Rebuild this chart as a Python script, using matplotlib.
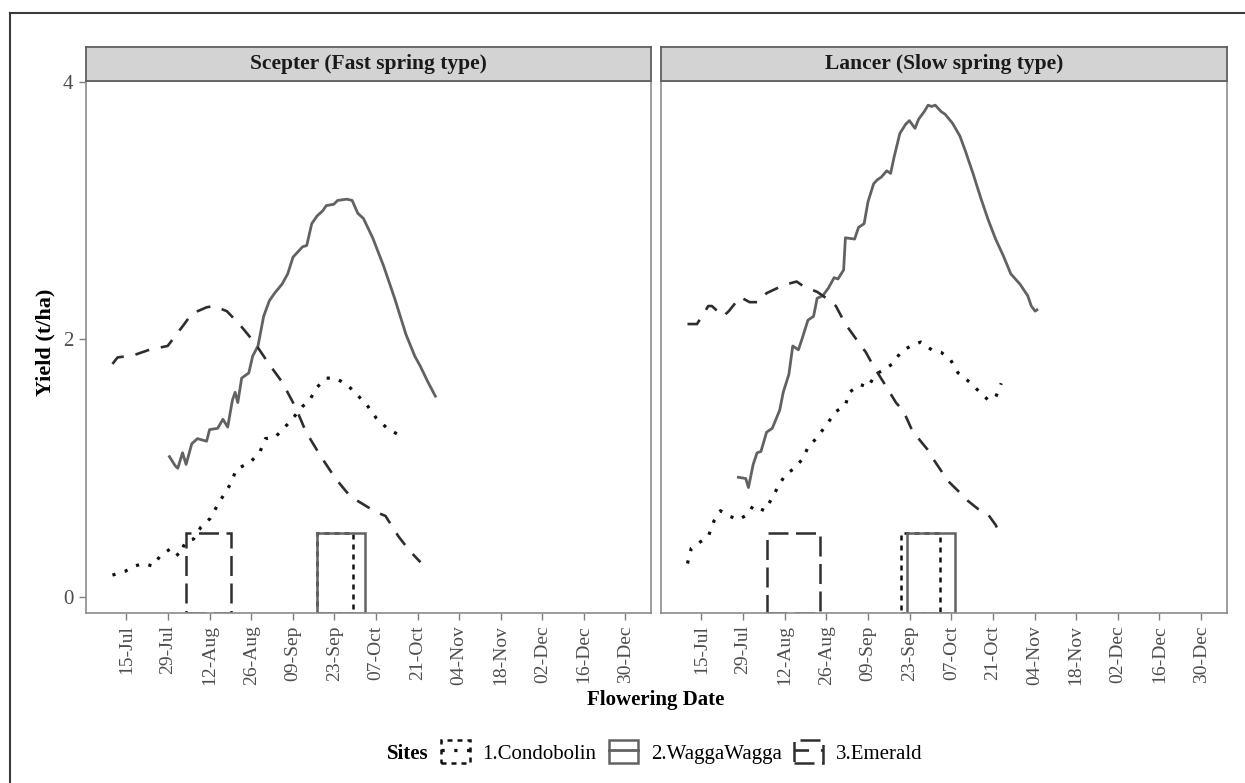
import matplotlib
matplotlib.use("Agg")
import matplotlib.pyplot as plt
from matplotlib.patches import Rectangle, Patch
from matplotlib.lines import Line2D
from matplotlib.legend_handler import HandlerTuple

plt.rcParams['font.family'] = ['Liberation Serif', 'DejaVu Serif']

# flowering date as day of year, yield in t/ha
panels = ["Scepter (Fast spring type)", "Lancer (Slow spring type)"]
sites = ["1.Condobolin", "2.WaggaWagga", "3.Emerald"]

tick_days = [196, 210, 224, 238, 252, 266, 280, 294, 308, 322, 336, 350, 364]
tick_labels = ["15-Jul", "29-Jul", "12-Aug", "26-Aug", "09-Sep", "23-Sep", "07-Oct",
               "21-Oct", "04-Nov", "18-Nov", "02-Dec", "16-Dec", "30-Dec"]

# Scepter
sc_condo_day = [191.3, 195.6, 198.7, 201.8, 204.9, 207.4, 211.2, 213.6, 216, 218.6, 221, 224.2,
                226.6, 229.2, 231.4, 232.9, 235.4, 237.9, 241, 242.8, 246, 249, 252.1, 255.3,
                257.7, 260.2, 263.3, 266.4, 270.2, 273.3, 277, 280.1, 283.8, 287.6]
sc_condo_yield = [0.17, 0.20, 0.24, 0.26, 0.24, 0.32, 0.38, 0.32, 0.43, 0.45, 0.54, 0.61,
                  0.71, 0.81, 0.89, 0.99, 1.02, 1.05, 1.13, 1.23, 1.24, 1.31, 1.39, 1.48,
                  1.53, 1.63, 1.70, 1.70, 1.65, 1.58, 1.49, 1.39, 1.31, 1.26]
sc_wagga_day = [210.5, 212.4, 213.3, 214.9, 216.1, 218, 219.9, 223, 224, 226.7, 228.5, 230.1,
                231.7, 232.6, 233.5, 234.8, 237.2, 238.5, 240.3, 242.2, 244.1, 245.9, 248.4,
                250.3, 252.1, 255.3, 256.7, 258.4, 260.2, 262.1, 263.3, 265.8, 267.1, 270.2,
                272, 273.9, 275.8, 278.9, 282.6, 286.3, 290.1, 293.1, 295, 297.5, 300]
sc_wagga_yield = [1.09, 1.02, 1.00, 1.12, 1.03, 1.19, 1.23, 1.21, 1.30, 1.31, 1.38, 1.32,
                  1.53, 1.59, 1.51, 1.70, 1.74, 1.87, 1.95, 2.18, 2.30, 2.36, 2.43,
                  2.51, 2.64, 2.72, 2.73, 2.90, 2.96, 3.00, 3.04, 3.05, 3.08, 3.09,
                  3.08, 2.98, 2.94, 2.79, 2.57, 2.32, 2.04, 1.87, 1.79, 1.67, 1.56]
sc_emer_day = [191.3, 193, 198.7, 203.7, 209.9, 215.5, 218, 223, 225.4, 229.8, 234, 239, 244,
               248.4, 252.8, 256.5, 261.5, 266.4, 271.4, 275, 280, 283.2, 287.6, 291.3, 295]
sc_emer_yield = [1.81, 1.86, 1.88, 1.92, 1.95, 2.12, 2.20, 2.25, 2.26, 2.22, 2.12, 1.98, 1.81,
                 1.67, 1.48, 1.28, 1.09, 0.92, 0.78, 0.73, 0.66, 0.63, 0.47, 0.36, 0.27]

# Lancer
la_condo_day = [191.3, 192.6, 195.1, 198.3, 200.2, 202.4, 205.2, 208.4, 211.5, 213.4, 217.2,
                219.8, 221.6, 224.2, 227.3, 229.9, 231.8, 234.9, 238.1, 241.2, 244.4, 245.7,
                249.4, 252, 254.5, 257, 260.2, 263.3, 266.5, 269.7, 273.4, 276.6, 279.8,
                282.3, 286.1, 289.2, 292.4, 294.9, 296.8]
la_condo_yield = [0.26, 0.38, 0.42, 0.47, 0.59, 0.67, 0.63, 0.60, 0.64, 0.71, 0.67,
                  0.77, 0.85, 0.95, 1.00, 1.07, 1.16, 1.24, 1.34, 1.44, 1.49, 1.59,
                  1.65, 1.63, 1.73, 1.76, 1.81, 1.91, 1.95, 1.98, 1.92, 1.90, 1.84,
                  1.74, 1.67, 1.60, 1.53, 1.55, 1.66]
la_wagga_day = [208.4, 210.9, 211.8, 213.4, 214.7, 216, 217.9, 219.8, 222.3, 223.5, 225.4,
                226.7, 228.6, 229.9, 231.8, 233.7, 234.9, 236.8, 238.7, 240.6, 241.9, 243.8,
                244.4, 247.5, 248.8, 250.7, 252, 253.9, 255.1, 256.4, 258.3, 259.6, 260.8,
                262.7, 264.6, 265.9, 267.8, 269, 270.9, 272.2, 273.4, 274.6, 276.6, 277.9,
                280.4, 282.9, 284.8, 287.3, 289.9, 292.4, 294.9, 297.5, 300, 303.1, 305.7,
                306.9, 308.2, 308.8]
la_wagga_yield = [0.93, 0.92, 0.85, 1.03, 1.12, 1.13, 1.28, 1.31, 1.45, 1.59, 1.73,
                  1.95, 1.92, 2.01, 2.15, 2.18, 2.32, 2.34, 2.40, 2.48, 2.47, 2.54,
                  2.79, 2.78, 2.87, 2.90, 3.07, 3.21, 3.24, 3.26, 3.31, 3.29, 3.42,
                  3.60, 3.67, 3.70, 3.64, 3.71, 3.77, 3.82, 3.81, 3.82, 3.77, 3.75,
                  3.68, 3.58, 3.46, 3.29, 3.10, 2.93, 2.78, 2.65, 2.51, 2.43, 2.34,
                  2.26, 2.22, 2.23]
la_emer_day = [191.3, 194.5, 198.3, 199.5, 203.3, 205.2, 209, 212.2, 215.3, 217.9, 221.6,
               224.8, 228, 230.5, 234.9, 237.4, 241.2, 244.4, 247.5, 251.3, 253.9, 257.7,
               261.4, 264, 267.1, 269, 272.2, 273.4, 276.6, 278.5, 282.9, 285.4, 289.2,
               292.4, 294.9, 296.8]
la_emer_yield = [2.12, 2.12, 2.26, 2.26, 2.18, 2.22, 2.33, 2.29, 2.29, 2.36, 2.40,
                 2.43, 2.45, 2.41, 2.37, 2.33, 2.26, 2.12, 2.02, 1.90, 1.79, 1.65,
                 1.51, 1.44, 1.28, 1.23, 1.14, 1.09, 0.98, 0.91, 0.81, 0.75, 0.68,
                 0.64, 0.56, 0.47]

# optimal flowering windows (start day, end day), box height
sc_window_start = [260, 260.1, 216]
sc_window_end = [272.3, 276.2, 231.1]
la_window_start = [263, 265.1, 218]
la_window_end = [276.1, 281.1, 235.8]
window_height = 0.5

colors = ["#111111", "#626262", "#2e2e2e"]
line_styles = [(0, (1, 3)), "-", (0, (5.5, 4.5))]
line_widths = [2.3, 2.0, 1.9]
rect_styles = [(0, (2, 2)), "-", (0, (8, 3))]

W, H = 1245, 783
def box(x0, y0, x1, y1):
    return [x0 / W, 1 - y1 / H, (x1 - x0) / W, (y1 - y0) / H]

fig = plt.figure(figsize=(12.45, 7.83), dpi=100)

ax1 = fig.add_axes(box(86, 80.7, 651, 612.7))
ax2 = fig.add_axes(box(661, 80.7, 1226.7, 612.7))
st1 = fig.add_axes(box(86, 46.7, 651, 80.7))
st2 = fig.add_axes(box(661, 46.7, 1226.7, 80.7))

panel_lines = [
    [(sc_condo_day, sc_condo_yield), (sc_wagga_day, sc_wagga_yield), (sc_emer_day, sc_emer_yield)],
    [(la_condo_day, la_condo_yield), (la_wagga_day, la_wagga_yield), (la_emer_day, la_emer_yield)],
]
panel_windows = [(sc_window_start, sc_window_end), (la_window_start, la_window_end)]

for ax, lines, win in zip([ax1, ax2], panel_lines, panel_windows):
    ax.set_xlim(182.4, 372.6)
    ax.set_ylim(-0.122, 4.01)
    ybot = ax.get_ylim()[0]
    for i in range(3):
        r = Rectangle((win[0][i], ybot), win[1][i] - win[0][i], window_height - ybot,
                      fill=False, edgecolor=colors[i], linestyle=rect_styles[i], lw=1.8, zorder=2)
        ax.add_patch(r)
    for i in range(3):
        ax.plot(lines[i][0], lines[i][1], color=colors[i], linestyle=line_styles[i],
                lw=line_widths[i], zorder=3)
    ax.set_xticks(tick_days)
    ax.set_xticklabels(tick_labels, rotation=90)
    for sp in ax.spines.values():
        sp.set_color("#8c8c8c")
        sp.set_linewidth(1.2)
    ax.tick_params(axis='both', length=5, width=1, color="#7f7f7f", labelcolor="#4d4d4d",
                   labelsize=14, pad=4)

ax1.set_yticks([0, 2, 4])
ax1.tick_params(axis='y', labelsize=15)
ax2.set_yticks([])

for st, name in zip([st1, st2], panels):
    st.set_facecolor("#d3d3d3")
    st.set_xticks([])
    st.set_yticks([])
    for sp in st.spines.values():
        sp.set_color("#5f5f5f")
        sp.set_linewidth(1.3)
    st.text(0.5, 0.5, name, ha="center", va="center", fontsize=15.5, fontweight="bold",
            color="#1a1a1a", transform=st.transAxes)

fig.text(656 / W, 1 - 700 / H, "Flowering Date", ha="center", va="center",
         fontsize=15, fontweight="bold")
fig.text(45 / W, 1 - 342 / H, "Yield (t/ha)", ha="center", va="center", rotation=90,
         fontsize=16, fontweight="bold")

# legend
handles = []
for i in range(3):
    p = Patch(fill=False, edgecolor=colors[i], linestyle=rect_styles[i], lw=1.8)
    l = Line2D([], [], color=colors[i], linestyle=line_styles[i], lw=line_widths[i])
    handles.append((p, l))
fig.text(429 / W, 1 - 754 / H, "Sites", ha="right", va="center", fontsize=15, fontweight="bold")
fig.legend(handles, sites, handler_map={tuple: HandlerTuple(ndivide=1)}, ncol=3,
           loc="center left", bbox_to_anchor=(441 / W, 1 - 752 / H), frameon=False,
           fontsize=15, handlelength=1.4, handleheight=1.3, handletextpad=0.6,
           columnspacing=0.6, borderpad=0, borderaxespad=0)

# outer frame of the original figure
fig.add_artist(Line2D([10 / W, 10 / W], [0, 1 - 13 / H], color="#3a3a3a", lw=1.5,
                      transform=fig.transFigure))
fig.add_artist(Line2D([10 / W, 1], [1 - 13 / H, 1 - 13 / H], color="#3a3a3a", lw=1.5,
                      transform=fig.transFigure))

fig.savefig("out.png", dpi=100)
